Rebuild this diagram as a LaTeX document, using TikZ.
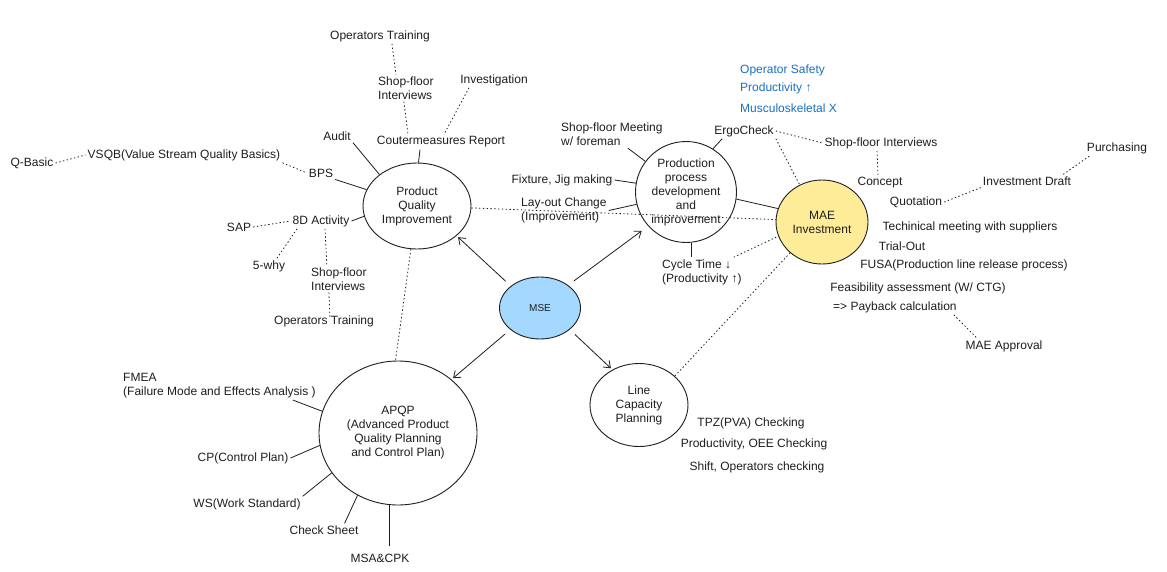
\documentclass[tikz,border=0pt]{standalone}
\usepackage{fontspec}
\setmainfont{Liberation Sans}
\usetikzlibrary{shapes.geometric,arrows.meta}
\definecolor{ink}{HTML}{1E1E1E}
\definecolor{bluetxt}{HTML}{1971C2}
\definecolor{msefill}{HTML}{A5D8FF}
\definecolor{maefill}{HTML}{FFEC99}
\begin{document}
\begin{tikzpicture}[x=1pt,y=-1pt,
  lbl/.style={inner sep=2pt, font=\fontsize{12}{14}\selectfont, text=ink},
  lbll/.style={lbl, align=left, anchor=west},
  bluelbl/.style={lbl, text=bluetxt, anchor=west},
  bubble/.style={ellipse, draw=ink, line width=0.9pt, inner sep=0pt, align=center, font=\fontsize{12}{14}\selectfont, text=ink},
  solidline/.style={draw=ink, line width=0.8pt},
  dotline/.style={draw=ink, line width=0.8pt, dash pattern=on 1.4pt off 2.4pt},
  arr/.style={draw=ink, line width=0.8pt, -{Straight Barb[length=6pt,width=9pt]}, shorten <=7pt, shorten >=2pt}
]
\fill[white] (0,0) rectangle (1167,571);
\useasboundingbox (0,0) rectangle (1167,571);

% main bubbles
\node[bubble, minimum width=108pt, minimum height=86pt] (pqi) at (417,206) {Product\\Quality\\Improvement};
\node[bubble, minimum width=101pt, minimum height=101pt] (prod) at (686,192) {Production\\process\\development\\and\\improvement};
\node[bubble, fill=maefill, minimum width=92pt, minimum height=84pt] (mae) at (822,222) {MAE\\Investment};
\node[bubble, fill=msefill, minimum width=81pt, minimum height=62pt, font=\fontsize{10}{12}\selectfont] (mse) at (540,308) {MSE};
\node[bubble, minimum width=98pt, minimum height=83pt] (lcp) at (639,405) {Line\\Capacity\\Planning};
\node[bubble, minimum width=158pt, minimum height=144pt] (apqp) at (398,433) {APQP\\(Advanced Product\\Quality Planning\\and Control Plan)};

% labels
\node[lbl] (opt1) at (380,36) {Operators Training};
\node[lbll] (sf1) at (376,88) {Shop-floor\\Interviews};
\node[lbl] (invest) at (494,80) {Investigation};
\node[lbl] (audit) at (337,136) {Audit};
\node[lbl] (counter) at (441,142) {Coutermeasures Report};
\node[lbl] (bps) at (321,173) {BPS};
\node[lbl] (vsqb) at (184,155) {VSQB(Value Stream Quality Basics)};
\node[lbl] (qbasic) at (32,163) {Q-Basic};
\node[lbl] (eightd) at (321,221) {8D Activity};
\node[lbl] (sap) at (239,227) {SAP};
\node[lbl] (why) at (269,266) {5-why};
\node[lbll] (sf2) at (309,279) {Shop-floor\\Interviews};
\node[lbl] (opt2) at (324,321) {Operators Training};
\node[lbll] (foreman) at (559,134.5) {Shop-floor Meeting\\w/ foreman};
\node[lbl] (fixture) at (562,180) {Fixture, Jig making};
\node[lbll] (layout) at (519,210.5) {Lay-out Change\\(Improvement)};
\node[lbll] (cycle) at (660,272) {Cycle Time ↓\\(Productivity ↑)};
\node[lbl] (ergo) at (744,131) {ErgoCheck};
\node[bluelbl] (blue1) at (738,70) {Operator Safety};
\node[bluelbl] (blue2) at (738,88) {Productivity ↑};
\node[bluelbl] (blue3) at (738,108) {Musculoskeletal X};
\node[lbl] (sfi3) at (881,143) {Shop-floor Interviews};
\node[lbl] (concept) at (880,183) {Concept};
\node[lbl] (purch) at (1117,148) {Purchasing};
\node[lbl] (invdraft) at (1027,181) {Investment Draft};
\node[lbl] (quot) at (916,202) {Quotation};
\node[lbl] (tech) at (970,227) {Techinical meeting with suppliers};
\node[lbl] (trial) at (902,246) {Trial-Out};
\node[lbl] (fusa) at (964,265) {FUSA(Production line release process)};
\node[lbl] (feas) at (918,288) {Feasibility assessment (W/ CTG)};
\node[lbll] (payback) at (831,307) {=> Payback calculation};
\node[lbl] (maeappr) at (1004,346) {MAE Approval};
\node[lbll] (fmea) at (121,385.5) {FMEA\\(Failure Mode and Effects Analysis )};
\node[lbl] (cp) at (243,458) {CP(Control Plan)};
\node[lbl] (ws) at (247,504) {WS(Work Standard)};
\node[lbl] (check) at (324,530) {Check Sheet};
\node[lbl] (msa) at (380,558) {MSA\&CPK};
\node[lbl] (tpz) at (751,423) {TPZ(PVA) Checking};
\node[lbl] (oee) at (754,444) {Productivity, OEE Checking};
\node[lbl] (shift) at (757,467) {Shift, Operators checking};

% solid connectors
\draw[solidline] ([xshift=-21pt]counter.south) -- (pqi.88);
\draw[solidline] (audit.south east) -- (pqi.140);
\draw[solidline] (bps.south east) -- (pqi.162);
\draw[solidline] (eightd.east) -- (pqi.191);
\draw[solidline] ([xshift=-37pt]foreman.south east) -- (prod.143);
\draw[solidline] ([xshift=10pt]ergo.south west) -- (prod.58);
\draw[solidline] (fixture.east) -- (prod.170);
\draw[solidline] (layout.east) -- (prod.-166);
\draw[solidline] (prod.-8) -- (mae.163);
\draw[solidline] (prod.-84) -- (prod.-84 |- cycle.north);
\draw[solidline] ([xshift=-25pt]fmea.south east) -- (apqp.164);
\draw[solidline] (cp.east) -- (apqp.-171);
\draw[solidline] (ws.north east) -- (apqp.-149);
\draw[solidline] ([xshift=-16pt]check.north east) -- (apqp.-123);
\draw[solidline, shorten <=6pt] (apqp.-97 |- msa.north) -- (apqp.-97);

% dotted connectors
\draw[dotline] ([xshift=12pt]opt1.south) -- ([xshift=-10pt]sf1.north);
\draw[dotline] ([xshift=-2pt]sf1.south) -- ([xshift=-33pt]counter.north);
\draw[dotline] ([xshift=-25pt]invest.south) -- ([xshift=3pt]counter.north);
\draw[dotline] (qbasic.east) -- (vsqb.west);
\draw[dotline] (vsqb.south east) -- (bps.west);
\draw[dotline] (sap.east) -- (eightd.west);
\draw[dotline] ([xshift=-24pt]eightd.south) -- ([xshift=8pt]why.north);
\draw[dotline] ([xshift=4pt]eightd.south) -- ([xshift=-12pt]sf2.north);
\draw[dotline] ([xshift=-10pt]sf2.south) -- ([xshift=6pt,yshift=-5pt]opt2.north);
\draw[dotline] (ergo.south east) -- (mae.121);
\draw[dotline] (ergo.east) -- (sfi3.west);
\draw[dotline] ([xshift=-4pt]sfi3.south) -- ([xshift=-2pt]concept.north);
\draw[dotline] (quot.east) -- (invdraft.south west);
\draw[dotline] ([xshift=-10pt]invdraft.north east) -- ([xshift=5pt]purch.south west);
\draw[dotline] ([xshift=-5pt]payback.south east) -- ([xshift=-27pt]maeappr.north);
\draw[dotline] (pqi.-2) -- (mae.177);
\draw[dotline] (pqi.-98) -- (apqp.92);
\draw[dotline] (mae.-136) -- (lcp.39);
\draw[dotline] ([xshift=-10pt]cycle.north east) -- (mae.-162);

% arrows from MSE
\draw[arr] (mse.143) -- (pqi.-37);
\draw[arr, shorten >=8pt] (mse.39) -- (prod.222);
\draw[arr] (mse.-144) -- (apqp.45);
\draw[arr] (mse.-36) -- (lcp.127);
\end{tikzpicture}
\end{document}
